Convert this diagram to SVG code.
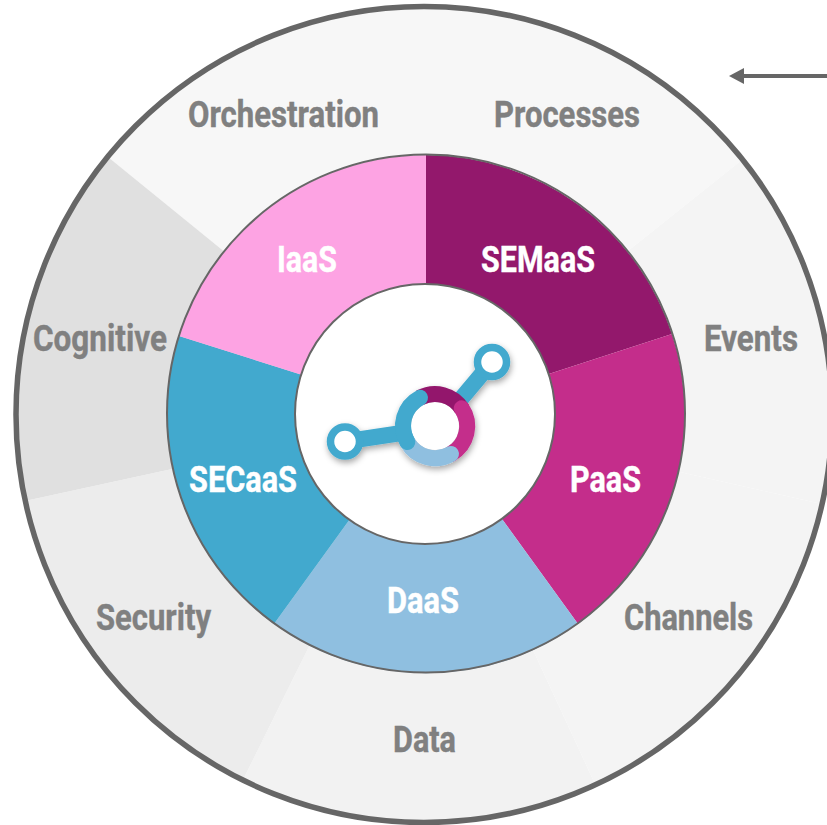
<svg xmlns="http://www.w3.org/2000/svg" width="827" height="825" viewBox="0 0 827 825">
<style>
text{font-family:Roboto,"Liberation Sans",sans-serif;font-weight:700;font-size:36px}
.o{fill:#808080;stroke:#808080;stroke-width:.4}
.i{fill:#fff;stroke:#fff;stroke-width:.4}
.w{stroke:none}
.logo{fill:none;stroke-width:16}
.node{fill:#fff;stroke:#42a9ce;stroke-width:7.5}
</style>
<defs>
<marker id="ah" markerUnits="userSpaceOnUse" markerWidth="17" markerHeight="18" refX="1" refY="9" orient="auto"><path d="M1 1L16 9L1 17Z" fill="#666"/></marker>
<filter id="sh" x="-20%" y="-20%" width="140%" height="140%"><feDropShadow dx="1" dy="3" stdDeviation="3" flood-color="#000" flood-opacity=".35"/></filter>
</defs>
<rect width="827" height="825" fill="#fff"/>
<g id="outer-ring">
<g id="orchestration"><path class="w" fill="#f7f7f7" d="M424 414L108 157A408 408 0 0 1 424 6Z"/><text class="o" x="188" y="127" textLength="191" lengthAdjust="spacingAndGlyphs">Orchestration</text></g>
<g id="processes"><path class="w" fill="#f7f7f7" d="M424 414L424 6A408 408 0 0 1 743 159Z"/><text class="o" x="494" y="127" textLength="146" lengthAdjust="spacingAndGlyphs">Processes</text></g>
<g id="events"><path class="w" fill="#f4f4f4" d="M424 414L743 159A408 408 0 0 1 822 504Z"/><text class="o" x="704" y="351" textLength="94" lengthAdjust="spacingAndGlyphs">Events</text></g>
<g id="channels"><path class="w" fill="#f4f4f4" d="M424 414L822 504A408 408 0 0 1 595 784Z"/><text class="o" x="624" y="630" textLength="129" lengthAdjust="spacingAndGlyphs">Channels</text></g>
<g id="data"><path class="w" fill="#f2f2f2" d="M424 414L595 784A408 408 0 0 1 243 780Z"/><text class="o" x="393" y="752" textLength="63" lengthAdjust="spacingAndGlyphs">Data</text></g>
<g id="security"><path class="w" fill="#ececec" d="M424 414L243 780A408 408 0 0 1 25 501Z"/><text class="o" x="96" y="630" textLength="115" lengthAdjust="spacingAndGlyphs">Security</text></g>
<g id="cognitive"><path class="w" fill="#e0e0e0" d="M424 414L25 501A408 408 0 0 1 108 157Z"/><text class="o" x="33" y="351" textLength="134" lengthAdjust="spacingAndGlyphs">Cognitive</text></g>
<circle cx="424" cy="414.5" r="408" fill="none" stroke="#666" stroke-width="5.5"/>
</g>
<g id="inner-ring">
<g id="semaas"><path class="w" fill="#93186c" d="M426 414L426 155A259 259 0 0 1 672 334Z"/></g>
<g id="paas"><path class="w" fill="#c42d8b" d="M426 414L672 334A259 259 0 0 1 578 624Z"/></g>
<g id="daas"><path class="w" fill="#8fbfe0" d="M426 414L578 624A259 259 0 0 1 274 624Z"/></g>
<g id="secaas"><path class="w" fill="#42a9ce" d="M426 414L274 624A259 259 0 0 1 179 336Z"/></g>
<g id="iaas"><path class="w" fill="#fda3e3" d="M426 414L179 336A259 259 0 0 1 426 155Z"/></g>
<circle cx="426" cy="413.5" r="259" fill="none" stroke="#666" stroke-width="2"/>
<g id="hub"><circle cx="425" cy="414" r="130" fill="#fff" stroke="#666" stroke-width="2"/></g>
<text class="i" x="277" y="272" textLength="60" lengthAdjust="spacingAndGlyphs">IaaS</text>
<text class="i" x="481" y="272" textLength="114" lengthAdjust="spacingAndGlyphs">SEMaaS</text>
<text class="i" x="570" y="492" textLength="71" lengthAdjust="spacingAndGlyphs">PaaS</text>
<text class="i" x="387" y="613" textLength="72" lengthAdjust="spacingAndGlyphs">DaaS</text>
<text class="i" x="189" y="492" textLength="108" lengthAdjust="spacingAndGlyphs">SECaaS</text>
</g>
<g id="logo" filter="url(#sh)">
<path class="logo" stroke="#42a9ce" d="M345 441.5L415 431M492 362L455 406"/>
<circle class="node" cx="345" cy="441.5" r="14.5"/>
<circle class="node" cx="492" cy="362" r="14.5"/>
<circle cx="435" cy="426" r="24" fill="#fff"/>
<path class="logo" stroke="#93186c" d="M420 397.7A32 32 0 0 1 462 409"/>
<path class="logo" stroke="#c42d8b" stroke-linecap="round" d="M461.7 408.3A32 32 0 0 1 451 454"/>
<path class="logo" stroke="#8fbfe0" stroke-linecap="round" d="M407.3 442A32 32 0 0 0 451 454"/>
<path class="logo" stroke="#42a9ce" stroke-linecap="round" d="M420 397.7A32 32 0 0 0 407.3 442"/>
</g>
<g id="connectors">
<path d="M827 76H744" fill="none" stroke="#666" stroke-width="4" marker-end="url(#ah)"/>
</g>
</svg>
